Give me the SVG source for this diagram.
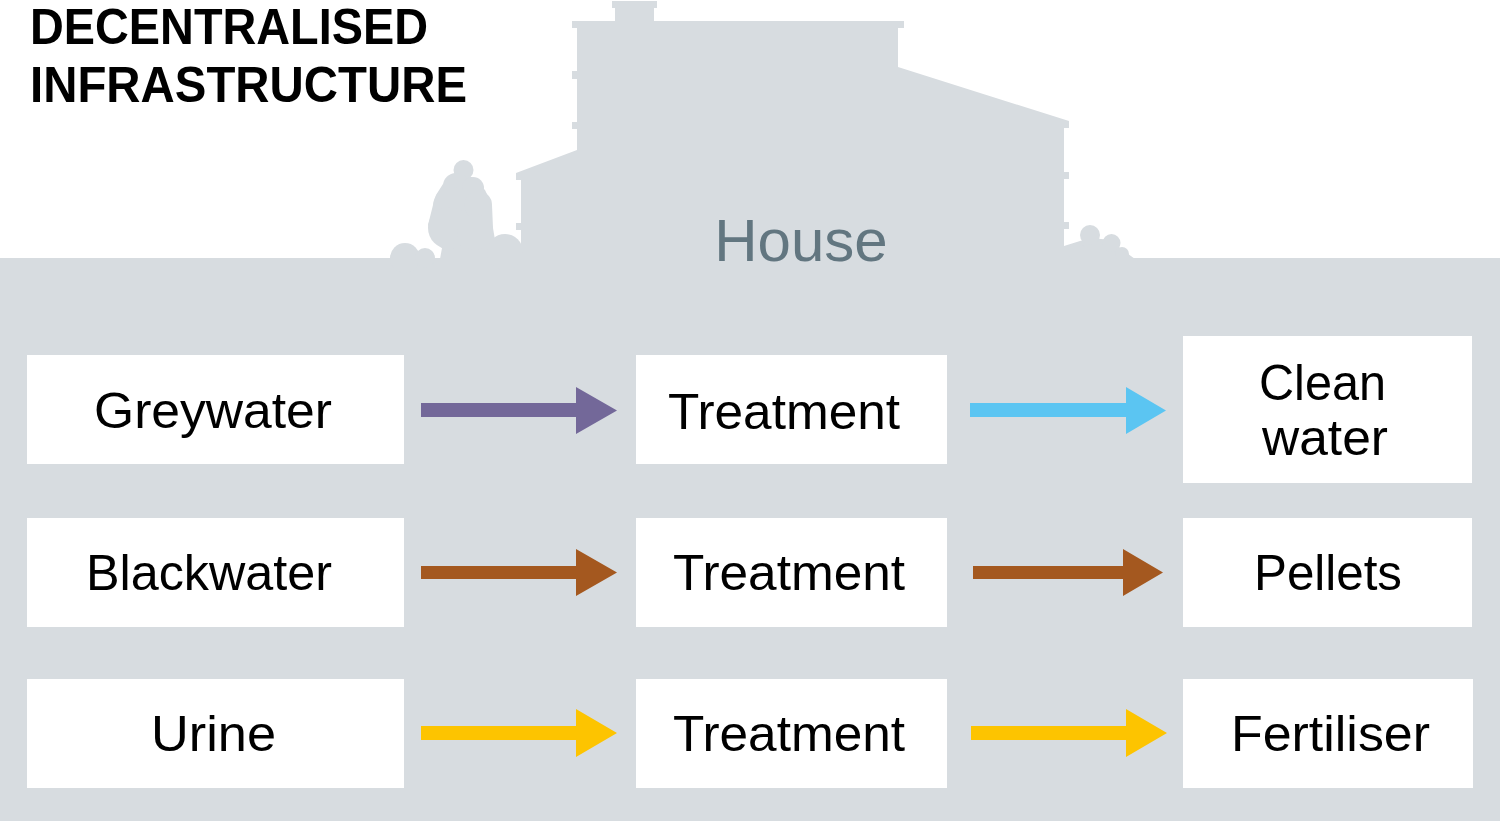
<svg xmlns="http://www.w3.org/2000/svg" width="1500" height="821" viewBox="0 0 1500 821">
<style>
.bg{fill:#d7dce0}
.box{fill:#ffffff}
.lbl{font-family:"Liberation Sans",Arial,sans-serif;font-size:50px;fill:#000;text-anchor:middle}
.title{font-family:"Liberation Sans",Arial,sans-serif;font-weight:bold;font-size:50px;fill:#000}
.house{font-family:"Liberation Sans",Arial,sans-serif;font-size:60px;fill:#627680;text-anchor:middle}
.grey{fill:#736899}
.brown{fill:#a4581f}
.blue{fill:#5bc5f2}
.yellow{fill:#fdc400}
</style>
<rect width="1500" height="821" fill="#ffffff"/>
<g id="scene" class="bg">
<rect x="0" y="258" width="1500" height="563"/>
<path d="M521,262 L521,230 L516,230 L516,223 L521,223 L521,180 L516,180 L516,173 L577,150 L577,129 L572,129 L572,122 L577,122 L577,79 L572,79 L572,71 L577,71 L577,28 L572,28 L572,21 L615,21 L615,8 L612,8 L612,1 L657,1 L657,8 L654,8 L654,21 L904,21 L904,28 L898,28 L898,67 L1069,121 L1069,128 L1064,128 L1064,172 L1069,172 L1069,179 L1064,179 L1064,222 L1069,222 L1069,229 L1064,229 L1064,262 Z"/>
<path d="M455,176 L443,184 L436,195 L433,205 L428,225 L432,238 L442,248 L440,259 L506,259 L495,240 L493,228 L492,205 L485,190 L472,177 Z"/>
<circle cx="463.5" cy="170" r="10"/>
<circle cx="456" cy="186" r="13"/>
<circle cx="473" cy="188" r="11"/>
<circle cx="452" cy="206" r="19"/>
<circle cx="478" cy="205" r="14"/>
<circle cx="449" cy="228" r="21"/>
<circle cx="475" cy="232" r="18"/>
<circle cx="405" cy="258" r="15"/>
<circle cx="425" cy="258" r="10"/>
<circle cx="505" cy="252" r="18"/>
<path d="M1064,259 L1064,246 L1080,241 L1090,238 L1112,240 L1120,248 L1135,259 Z"/>
<circle cx="1090" cy="235" r="10"/>
<circle cx="1111.5" cy="243" r="9"/>
<circle cx="1077" cy="252" r="9"/>
<circle cx="1122" cy="254" r="7"/>
</g>
<g id="title">
<text class="title" x="30" y="44" textLength="398" lengthAdjust="spacingAndGlyphs">DECENTRALISED</text>
<text class="title" x="30" y="102" textLength="437" lengthAdjust="spacingAndGlyphs">INFRASTRUCTURE</text>
</g>
<text id="house-label" class="house" x="801" y="261">House</text>
<g id="connectors">
<polygon class="grey" points="421,403 576,403 576,387 617,410.5 576,434 576,417 421,417"/>
<polygon class="blue" points="970,403 1126,403 1126,387 1166,410.5 1126,434 1126,417 970,417"/>
<polygon class="brown" points="421,566 576,566 576,549 617,572.5 576,596 576,579 421,579"/>
<polygon class="brown" points="973,566 1123,566 1123,549 1163,572.5 1123,596 1123,579 973,579"/>
<polygon class="yellow" points="421,726 576,726 576,709 617,733 576,757 576,740 421,740"/>
<polygon class="yellow" points="971,726 1126,726 1126,709 1167,733 1126,757 1126,740 971,740"/>
</g>
<g id="greywater"><rect class="box" x="27" y="355" width="377" height="109"/><text class="lbl" x="213" y="428" textLength="238" lengthAdjust="spacingAndGlyphs">Greywater</text></g>
<g id="treatment1"><rect class="box" x="636" y="355" width="311" height="109"/><text class="lbl" x="784" y="429" textLength="232" lengthAdjust="spacingAndGlyphs">Treatment</text></g>
<g id="cleanwater"><rect class="box" x="1183" y="336" width="289" height="147"/><text class="lbl" x="1322.5" y="400" textLength="127" lengthAdjust="spacingAndGlyphs">Clean</text><text class="lbl" x="1325" y="455" textLength="126" lengthAdjust="spacingAndGlyphs">water</text></g>
<g id="blackwater"><rect class="box" x="27" y="518" width="377" height="109"/><text class="lbl" x="209" y="590" textLength="246" lengthAdjust="spacingAndGlyphs">Blackwater</text></g>
<g id="treatment2"><rect class="box" x="636" y="518" width="311" height="109"/><text class="lbl" x="789" y="590" textLength="232" lengthAdjust="spacingAndGlyphs">Treatment</text></g>
<g id="pellets"><rect class="box" x="1183" y="518" width="289" height="109"/><text class="lbl" x="1328" y="590" textLength="148" lengthAdjust="spacingAndGlyphs">Pellets</text></g>
<g id="urine"><rect class="box" x="27" y="679" width="377" height="109"/><text class="lbl" x="213.5" y="751" textLength="125" lengthAdjust="spacingAndGlyphs">Urine</text></g>
<g id="treatment3"><rect class="box" x="636" y="679" width="311" height="109"/><text class="lbl" x="789" y="751" textLength="232" lengthAdjust="spacingAndGlyphs">Treatment</text></g>
<g id="fertiliser"><rect class="box" x="1183" y="679" width="290" height="109"/><text class="lbl" x="1330.5" y="751" textLength="199" lengthAdjust="spacingAndGlyphs">Fertiliser</text></g>
</svg>
